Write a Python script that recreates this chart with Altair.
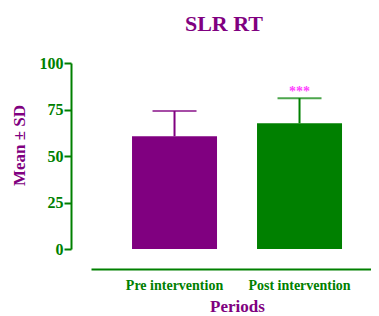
import altair as alt
import pandas as pd

periods = ["Pre intervention", "Post intervention"]
means = [60.6, 67.6]
sds = [13.6, 13.5]
colors = ["#800080", "#008000"]
sig_labels = ["", "***"]

df = pd.DataFrame({
    "period": periods,
    "mean": means,
    "sd": sds,
    "color": colors,
    "sig": sig_labels,
})
df["upper"] = df["mean"] + df["sd"]

FONT = "Times New Roman, Liberation Serif, serif"
GREEN = "#008000"
PURPLE = "#800080"

xenc = alt.X(
    "period:N",
    sort=periods,
    scale=alt.Scale(paddingInner=0.32, paddingOuter=0.28, align=0.586),
    axis=alt.Axis(
        title="Periods",
        labelAngle=0,
        ticks=False,
        domainColor=GREEN,
        domainWidth=2,
        offset=20,
        labelColor=GREEN,
        labelFont=FONT,
        labelFontWeight="bold",
        labelFontSize=14,
        labelPadding=9,
        titleColor=PURPLE,
        titleFont=FONT,
        titleFontWeight="bold",
        titleFontSize=17,
        titlePadding=6,
        titleX=146,
    ),
)

yscale = alt.Scale(domain=[0, 100], nice=False)

bars = alt.Chart(df).mark_bar().encode(
    x=xenc,
    y=alt.Y(
        "mean:Q",
        scale=yscale,
        axis=alt.Axis(
            title="Mean ± SD",
            values=[0, 25, 50, 75, 100],
            grid=False,
            offset=20,
            domainColor=GREEN,
            domainWidth=2,
            tickColor=GREEN,
            tickWidth=2,
            tickSize=7,
            labelColor=GREEN,
            labelFont=FONT,
            labelFontWeight="bold",
            labelFontSize=16,
            labelPadding=1,
            titleColor=PURPLE,
            titleFont=FONT,
            titleFontWeight="bold",
            titleFontSize=17,
            titlePadding=11,
            titleY=82,
        ),
    ),
    color=alt.Color("color:N", scale=None),
)

rules = alt.Chart(df).mark_rule(strokeWidth=2).encode(
    x=alt.X("period:N", sort=periods),
    y=alt.Y("mean:Q", scale=yscale),
    y2="upper:Q",
    color=alt.Color("color:N", scale=None),
)

caps = alt.Chart(df).mark_tick(size=44, thickness=2).encode(
    x=alt.X("period:N", sort=periods),
    y=alt.Y("upper:Q", scale=yscale),
    color=alt.Color("color:N", scale=None),
)

stars = alt.Chart(df).mark_text(
    color="#ff44ff", fontSize=14, fontWeight="bold", font=FONT, dy=-6, baseline="middle"
).encode(
    x=alt.X("period:N", sort=periods),
    y=alt.Y("upper:Q", scale=yscale),
    text="sig:N",
)

chart = alt.layer(bars, rules, caps, stars).properties(
    width=280,
    height=186,
    padding={"left": 2, "top": 5, "right": 0, "bottom": 0},
    title=alt.TitleParams(
        "SLR RT",
        font=FONT,
        fontSize=22,
        fontWeight="bold",
        color=PURPLE,
        dx=-7,
        offset=19,
    ),
).configure_view(stroke=None)

chart.save("out.html", embed_options={"renderer": "svg", "actions": False})
